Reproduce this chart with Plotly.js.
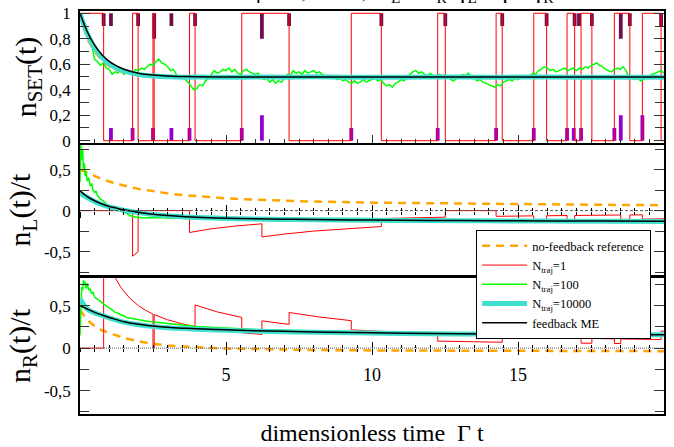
<!DOCTYPE html>
<html><head><meta charset="utf-8">
<script src="https://cdn.plot.ly/plotly-3.0.1.min.js"></script>
<style>
body{margin:0;padding:0;background:#fff;font-family:'Liberation Serif',serif}
#chart svg text, #chart svg tspan { font-family:'Liberation Serif','Times New Roman',serif !important; }
</style>
</head><body>
<div id="chart" style="width:674px;height:447px"></div>
<script>
// ---------- data ----------
// single trajectory (N_traj = 1): occupation switching times and values
const setJumpT = [0,0.81,1.80,1.99,2.50,2.54,3.75,3.94,5.54,7.16,9.29,10.32,12.25,12.51,14.25,14.46,15.54,15.98,16.68,16.94,17.16,17.53,18.30,18.83,19.26,19.90,20];
const setJumpN = [1,0,1,0,1,0,1,0,1,0,1,0,1,0,1,0,1,0,1,0,1,0,1,0,1,0,0];
// jump markers (time, length)
const markTopT = [0.81,1.06,1.99,2.54,3.13,3.94,6.23,7.16,10.32,12.51,14.46,15.98,16.94,17.09,17.53,18.52,18.83,19.90];
const markTopL = [0.1,0.1,0.1,0.2,0.1,0.1,0.2,0.1,0.1,0.1,0.1,0.1,0.1,0.1,0.1,0.2,0.1,0.1];
const markBotT = [1.06,1.80,2.50,3.13,3.75,5.54,6.23,9.29,12.25,14.25,15.54,16.68,16.91,17.16,18.30,18.52,19.26];
const markBotL = [0.1,0.1,0.1,0.1,0.1,0.1,0.2,0.1,0.1,0.1,0.1,0.1,0.1,0.1,0.1,0.2,0.2];

// n_L(t)/t single trajectory
const redLT = [0,1.80,1.80,1.99,1.99,3.75,3.75,4.5,5.3,6.23,6.23,7,8,9,10.32,10.32,11.4,12.51,12.51,14.25,14.25,15.54,15.54,15.98,15.98,16.68,16.68,16.94,16.94,18.52,18.52,18.83,18.83,19.26,19.26,20];
const redLV = [0,0,-0.556,-0.503,0,0,-0.267,-0.222,-0.189,-0.161,-0.321,-0.286,-0.25,-0.222,-0.194,-0.097,-0.088,-0.080,0,0,-0.070,-0.064,-0.129,-0.125,-0.063,-0.060,-0.120,-0.118,-0.059,-0.054,-0.108,-0.106,-0.053,-0.052,-0.104,-0.100];
// n_R(t)/t single trajectory
const redRT = [0,0.81,0.81,1.0,1.2,1.4,1.7,2.0,2.25,2.50,2.50,2.54,2.54,3.0,3.5,3.94,3.94,4.7,5.54,5.54,6.23,6.23,7.16,7.16,8.2,9.29,9.29,10.7,12.25,12.25,14.46,14.46,17.16,17.16,17.53,17.53,18.30,18.30,18.52,18.52,19.90,19.90,20];
const redRV = [0,0,1.235,1.0,0.833,0.714,0.588,0.5,0.444,0.4,0,0,0.394,0.333,0.286,0.254,0.508,0.426,0.361,0.181,0.161,0.321,0.279,0.419,0.366,0.323,0.215,0.187,0.163,0.082,0.069,0.138,0.117,0.058,0.057,0.114,0.109,0.055,0.054,0.108,0.101,0.201,0.2];

// N_traj = 100, n_SET(t), sampled every 0.1
const greenSetDt = 0.1;
const greenSetV = [
1.00,0.93,0.88,0.82,0.75,0.64,0.62,0.59,0.61,0.57,
0.56,0.52,0.54,0.53,0.56,0.52,0.54,0.55,0.53,0.56,
0.55,0.57,0.56,0.58,0.60,0.59,0.62,0.64,0.61,0.60,
0.58,0.55,0.56,0.52,0.50,0.51,0.48,0.46,0.43,0.40,
0.41,0.44,0.43,0.47,0.49,0.52,0.55,0.53,0.54,0.56,
0.55,0.57,0.54,0.56,0.53,0.52,0.55,0.56,0.54,0.53,
0.52,0.53,0.50,0.48,0.49,0.46,0.48,0.45,0.47,0.46,
0.49,0.52,0.51,0.55,0.53,0.54,0.52,0.55,0.53,0.54,
0.55,0.53,0.54,0.52,0.50,0.51,0.49,0.50,0.48,0.49,
0.47,0.48,0.46,0.45,0.47,0.45,0.46,0.48,0.46,0.47,
0.48,0.49,0.47,0.48,0.45,0.43,0.44,0.42,0.45,0.46,
0.48,0.47,0.50,0.52,0.54,0.55,0.53,0.54,0.52,0.51,
0.53,0.51,0.50,0.52,0.51,0.49,0.50,0.48,0.47,0.49,
0.50,0.52,0.51,0.53,0.50,0.49,0.47,0.48,0.46,0.45,
0.44,0.43,0.42,0.44,0.43,0.46,0.47,0.48,0.47,0.49,
0.48,0.50,0.49,0.51,0.50,0.53,0.52,0.55,0.56,0.58,
0.57,0.55,0.56,0.54,0.55,0.56,0.57,0.55,0.56,0.57,
0.55,0.57,0.56,0.58,0.57,0.59,0.60,0.61,0.59,0.58,
0.56,0.55,0.54,0.56,0.57,0.56,0.58,0.55,0.50,0.49,
0.48,0.49,0.47,0.48,0.50,0.51,0.52,0.53,0.54,0.55,
0.53];
const greenLT = [0,0.03,0.06,0.09,0.12,0.15,0.18,0.21,0.25,0.3,0.35,0.4,0.45,0.5,0.55,0.6,0.7,0.8,0.9,1.0,1.1,1.2,1.3,1.4,1.5,1.6,1.7,1.8,1.9,2.0,2.2,2.4,2.6,2.8,3.0,3.3,3.6,4.0,4.5,5,5.5,6,7,8,9,10,11,12,13,14,15,16,17,18,19,20];
const greenLV = [0.35,0.8,0.62,0.75,0.5,0.58,0.42,0.48,0.36,0.4,0.3,0.33,0.25,0.22,0.24,0.18,0.14,0.12,0.08,0.06,0.03,0.01,0.0,0.01,-0.02,-0.03,-0.06,-0.07,-0.08,-0.08,-0.09,-0.085,-0.09,-0.088,-0.09,-0.095,-0.097,-0.10,-0.105,-0.11,-0.115,-0.12,-0.125,-0.13,-0.132,-0.135,-0.137,-0.14,-0.14,-0.14,-0.141,-0.142,-0.142,-0.143,-0.143,-0.144];
const greenRT = [0,0.03,0.06,0.09,0.12,0.15,0.18,0.21,0.25,0.3,0.35,0.4,0.45,0.5,0.6,0.7,0.8,0.9,1.0,1.1,1.2,1.3,1.4,1.5,1.6,1.8,2.0,2.3,2.6,3.0,3.5,4,4.5,5,5.5,6,7,8,9,10,11,12,13,14,15,16,17,18,19,20];
const greenRV = [0.15,0.6,0.72,0.68,0.8,0.74,0.78,0.7,0.76,0.68,0.7,0.64,0.66,0.6,0.58,0.55,0.52,0.5,0.47,0.45,0.42,0.41,0.39,0.38,0.36,0.345,0.33,0.315,0.305,0.29,0.27,0.255,0.245,0.235,0.225,0.218,0.21,0.2,0.195,0.19,0.185,0.18,0.177,0.175,0.172,0.17,0.168,0.165,0.163,0.16];

// smooth curves (N_traj = 10000, feedback ME, no-feedback reference)
const smoothT = [0,0.25,0.5,0.75,1,1.25,1.5,2,2.5,3,3.5,4,5,6,7,8,10,12,14,16,18,20];
const blackSet = [1,0.855,0.75,0.675,0.622,0.587,0.561,0.530,0.515,0.507,0.504,0.502,0.5005,0.5,0.5,0.5,0.5,0.5,0.5,0.5,0.5,0.5];
const cyanSet  = [1,0.84,0.73,0.655,0.605,0.57,0.548,0.52,0.508,0.502,0.498,0.5,0.497,0.5,0.498,0.501,0.497,0.5,0.498,0.5,0.497,0.498];
const orangeSet= [1,0.8,0.70,0.63,0.585,0.555,0.535,0.515,0.506,0.502,0.5,0.5,0.5,0.5,0.5,0.5,0.5,0.5,0.5,0.5,0.5,0.5];
const blackL = [0.24,0.17,0.12,0.08,0.05,0.03,0.01,-0.02,-0.045,-0.06,-0.072,-0.08,-0.093,-0.10,-0.105,-0.11,-0.116,-0.12,-0.123,-0.126,-0.128,-0.13];
const cyanL  = [0.21,0.16,0.11,0.075,0.045,0.025,0.005,-0.025,-0.048,-0.063,-0.075,-0.083,-0.095,-0.103,-0.108,-0.112,-0.118,-0.122,-0.125,-0.128,-0.13,-0.132];
const orangeL= [0.5,0.46,0.42,0.385,0.355,0.33,0.305,0.265,0.235,0.21,0.19,0.175,0.15,0.132,0.12,0.11,0.097,0.088,0.08,0.075,0.07,0.066];
const blackR = [0.5,0.46,0.42,0.39,0.36,0.335,0.31,0.28,0.26,0.245,0.235,0.228,0.215,0.205,0.198,0.19,0.18,0.172,0.167,0.163,0.16,0.158];
const cyanR  = [0.58,0.46,0.415,0.385,0.355,0.33,0.305,0.275,0.255,0.24,0.23,0.223,0.21,0.2,0.193,0.187,0.177,0.17,0.165,0.161,0.158,0.156];
const orangeR= [0.45,0.33,0.26,0.21,0.18,0.15,0.12,0.08,0.05,0.03,0.018,0.01,-0.005,-0.013,-0.018,-0.022,-0.027,-0.03,-0.032,-0.034,-0.035,-0.036];

// tick labels
const yTickTop = [0,0.2,0.4,0.6,0.8,1];
const yTickTopText = ['0','0,2','0,4','0,6','0,8','1'];
const yTickLR = [-0.5,0,0.5];
const yTickLRText = ['-0,5','0','0,5'];
const xTickVals = [5,10,15];
const xTickText = ['5','10','15'];
const legendNames = ['no-feedback reference','N<sub>traj</sub>=1','N<sub>traj</sub>=100','N<sub>traj</sub>=10000','feedback ME'];
const topText = '\u03b2 = 1,  \u03b5 = 0,  \u0393<sub>L</sub> = \u0393<sub>R</sub>  \u03b3<sub>L</sub> = \u03b3 = \u03b3<sub>R</sub>';

// ---------- styling ----------
const C = {orange:'#ffa500', red:'#ff0000', green:'#00ff00', cyan:'#40e0d0', black:'#000000', mark1:'#6e0f4c', mark2:'#9400d3'};
const FONT = 'Liberation Serif';
const dTop=[0.6725,1], dMid=[0.345,0.6675], dBot=[0,0.3375];
const rTop=[-0.018,1.018], rMid=[-0.785,0.80], rBot=[-0.775,0.825];
const xRange=[0,20];
const zeroPos = (d,r)=> d[0] + (0-r[0])/(r[1]-r[0])*(d[1]-d[0]);

const greenSetT = greenSetV.map((_,i)=>+(i*greenSetDt).toFixed(2));

function panelTraces(xa, ya, orangeV, redX, redY, redShape, greenX, greenY, cyanV, blackV, legend){
  return [
    {x:smoothT, y:orangeV, xaxis:xa, yaxis:ya, mode:'lines', name:legendNames[0], showlegend:legend, legendrank:1,
     line:{color:C.orange, width:2.5, dash:'8px,6px'}, hoverinfo:'skip'},
    {x:redX, y:redY, xaxis:xa, yaxis:ya, mode:'lines', name:legendNames[1], showlegend:legend, legendrank:2,
     line:{color:C.red, width:1, shape:redShape}, hoverinfo:'skip'},
    {x:greenX, y:greenY, xaxis:xa, yaxis:ya, mode:'lines', name:legendNames[2], showlegend:legend, legendrank:3,
     line:{color:C.green, width:1.5}, hoverinfo:'skip'},
    {x:smoothT, y:cyanV, xaxis:xa, yaxis:ya, mode:'lines', name:legendNames[3], showlegend:legend, legendrank:4,
     line:{color:C.cyan, width:5, shape:'spline'}, hoverinfo:'skip'},
    {x:smoothT, y:blackV, xaxis:xa, yaxis:ya, mode:'lines', name:legendNames[4], showlegend:legend, legendrank:5,
     line:{color:C.black, width:1.5, shape:'spline'}, hoverinfo:'skip'}
  ];
}

const traces = [
  {type:'bar', x:markTopT, y:markTopL.map(v=>-v), base:1, width:0.13, xaxis:'x', yaxis:'y',
   marker:{color:C.mark1, line:{width:0}}, showlegend:false, hoverinfo:'skip'},
  {type:'bar', x:markBotT, y:markBotL, base:0, width:0.13, xaxis:'x', yaxis:'y',
   marker:{color:C.mark2, line:{width:0}}, showlegend:false, hoverinfo:'skip'},
  ...panelTraces('x','y', orangeSet, setJumpT, setJumpN, 'hv', greenSetT, greenSetV, cyanSet, blackSet, false),
  // zero lines
  {x:xRange, y:[0,0], xaxis:'x4', yaxis:'y2', mode:'lines', line:{color:'#555', width:1, dash:'3px,2px'}, showlegend:false, hoverinfo:'skip'},
  {x:xRange, y:[0,0], xaxis:'x5', yaxis:'y2', mode:'none', showlegend:false, hoverinfo:'skip'},
  {x:xRange, y:[0,0], xaxis:'x6', yaxis:'y3', mode:'lines', line:{color:'#555', width:1, dash:'1px,1px'}, showlegend:false, hoverinfo:'skip'},
  {x:xRange, y:[0,0], xaxis:'x7', yaxis:'y3', mode:'none', showlegend:false, hoverinfo:'skip'},
  ...panelTraces('x2','y2', orangeL, redLT, redLV, 'linear', greenLT, greenLV, cyanL, blackL, true),
  ...panelTraces('x3','y3', orangeR, redRT, redRV, 'linear', greenRT, greenRV, cyanR, blackR, false)
];

const frame = {showline:true, linewidth:1.5, linecolor:'#000', mirror:true, showgrid:false, zeroline:false};
function yax(d, r, vals, texts, title, minorStep){
  return Object.assign({}, frame, {
    domain:d, range:r, tickmode:'array', tickvals:vals, ticktext:texts,
    ticks:'inside', ticklen:10, tickwidth:1.2, tickcolor:'#333', mirror:'ticks',
    minor:{tickmode:'linear', tick0:0, dtick:minorStep, ticks:'inside', ticklen:9, tickwidth:1.2, tickcolor:'#333'},
    tickfont:{family:FONT, size:17, color:'#000'}, ticklabelstandoff:4,
    title:{text:title, font:{family:FONT, size:30, color:'#000'}, standoff:4}, automargin:false
  });
}
function xZero(over, pos, dir, labels){
  const ax = {overlaying:over, anchor:'free', position:pos, side:'bottom', range:xRange,
    showline:false, showgrid:false, zeroline:false,
    tickmode:'linear', tick0:0, dtick:5, ticks:dir, ticklen:6, tickwidth:1.2, tickcolor:'#000',
    minor:{tickmode:'linear', tick0:0, dtick:0.5, ticks:dir, ticklen:3, tickwidth:1, tickcolor:'#000'},
    showticklabels:false, automargin:false};
  if(labels){
    Object.assign(ax, {tickmode:'array', tickvals:xTickVals, ticktext:xTickText, showticklabels:true,
      tickfont:{family:FONT, size:18, color:'#000'}, ticklabelstandoff:4});
  }
  return ax;
}

const layout = {
  width:674, height:447, margin:{l:80, r:10, t:11, b:33},
  paper_bgcolor:'#fff', plot_bgcolor:'#fff', separators:',.',
  font:{family:FONT, size:16, color:'#000'}, barmode:'overlay', showlegend:true,
  xaxis: Object.assign({}, frame, {anchor:'y', domain:[0,1], range:xRange, showticklabels:false,
     tickmode:'linear', tick0:0, dtick:5, ticks:'inside', ticklen:8, tickwidth:1.2, tickcolor:'#333',
     minor:{tickmode:'linear', tick0:0, dtick:0.5, ticks:'inside', ticklen:4, tickcolor:'#333'}}),
  xaxis2: Object.assign({}, frame, {anchor:'y2', matches:'x', range:xRange, showticklabels:false, ticks:''}),
  xaxis3: Object.assign({}, frame, {anchor:'y3', matches:'x', range:xRange, showticklabels:false, ticks:'',
     title:{text:'dimensionless time  \u0393 t', font:{family:FONT, size:24, color:'#000'}, standoff:9}, automargin:false}),
  xaxis4: xZero('x2', zeroPos(dMid,rMid), 'inside', false),
  xaxis5: xZero('x2', zeroPos(dMid,rMid), 'outside', false),
  xaxis6: xZero('x3', zeroPos(dBot,rBot), 'inside', false),
  xaxis7: xZero('x3', zeroPos(dBot,rBot), 'outside', true),
  yaxis: Object.assign(yax(dTop, rTop, yTickTop, yTickTopText, 'n<sub>SET</sub>(t)', 0.1), {anchor:'x'}),
  yaxis2: Object.assign(yax(dMid, rMid, yTickLR, yTickLRText, 'n<sub>L</sub>(t)/t', 0.25), {anchor:'x2'}),
  yaxis3: Object.assign(yax(dBot, rBot, yTickLR, yTickLRText, 'n<sub>R</sub>(t)/t', 0.25), {anchor:'x3'}),
  legend:{x:0.678, y:0.4566, xanchor:'left', yanchor:'top', bgcolor:'#fff', bordercolor:'#000', borderwidth:1.2,
    font:{family:FONT, size:12.5, color:'#000'}, tracegroupgap:0, itemwidth:45, traceorder:'normal'},
  annotations:[{text:topText, xref:'paper', yref:'paper', x:0.556, y:1, yshift:3, xanchor:'center', yanchor:'bottom',
    showarrow:false, font:{family:FONT, size:22, color:'#000'}}]
};

Plotly.newPlot('chart', traces, layout, {displayModeBar:false});
</script>
</body></html>
